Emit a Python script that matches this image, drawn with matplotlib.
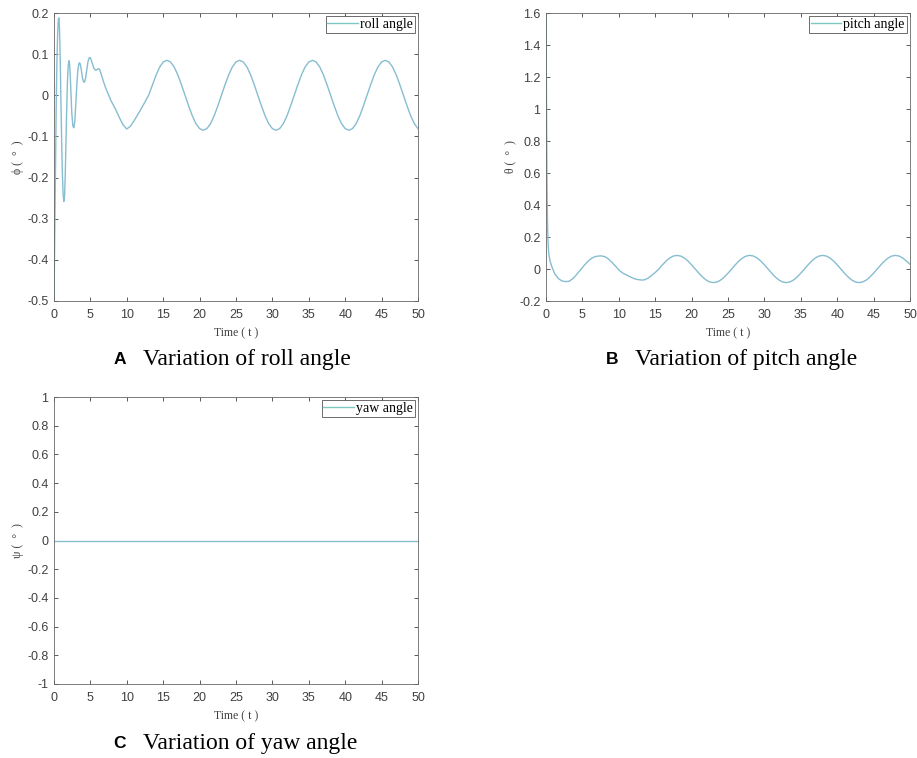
import numpy as np
import matplotlib.pyplot as plt

# Roll angle phi (deg) vs time
t_roll = [0, 0.05, 0.12, 0.2, 0.3, 0.4, 0.5, 0.6, 0.68, 0.76, 0.85, 0.95, 1.05, 1.15,
          1.25, 1.35, 1.45, 1.55, 1.65, 1.75, 1.85, 1.95, 2.05, 2.15, 2.25, 2.35,
          2.45, 2.6, 2.72, 2.85, 3.0, 3.15, 3.3, 3.45, 3.6, 3.75, 3.9, 4.05, 4.2,
          4.35, 4.5, 4.65, 4.8, 4.95, 5.1, 5.3, 5.5, 5.7, 5.9, 6.1, 6.3, 6.5, 6.8,
          7.1, 7.4, 7.8, 8.4, 9.0, 9.5, 10.0, 10.5, 11.0, 11.5, 12.0, 12.5,
          13.0, 13.5, 14.0, 14.5, 15.0, 15.5, 16.0, 16.5, 17.0, 17.5,
          18.0, 18.5, 19.0, 19.5, 20.0, 20.5, 21.0, 21.5, 22.0, 22.5,
          23.0, 23.5, 24.0, 24.5, 25.0, 25.5, 26.0, 26.5, 27.0, 27.5,
          28.0, 28.5, 29.0, 29.5, 30.0, 30.5, 31.0, 31.5, 32.0, 32.5,
          33.0, 33.5, 34.0, 34.5, 35.0, 35.5, 36.0, 36.5, 37.0, 37.5,
          38.0, 38.5, 39.0, 39.5, 40.0, 40.5, 41.0, 41.5, 42.0, 42.5,
          43.0, 43.5, 44.0, 44.5, 45.0, 45.5, 46.0, 46.5, 47.0, 47.5,
          48.0, 48.5, 49.0, 49.5, 50.0]
roll = [-0.5, -0.42, -0.3, -0.17, -0.03, 0.08, 0.15, 0.185, 0.188, 0.16, 0.09, -0.01, -0.11, -0.19,
        -0.24, -0.258, -0.245, -0.19, -0.11, -0.03, 0.035, 0.072, 0.084, 0.075, 0.04, -0.005,
        -0.045, -0.075, -0.079, -0.065, -0.02, 0.03, 0.065, 0.079, 0.077, 0.062, 0.043, 0.033, 0.032,
        0.043, 0.062, 0.08, 0.09, 0.092, 0.087, 0.075, 0.065, 0.061, 0.062, 0.065, 0.062, 0.05, 0.033,
        0.018, 0.005, -0.012, -0.032, -0.055, -0.072, -0.082, -0.075, -0.062, -0.047, -0.032, -0.016,
        0.0, 0.024, 0.048, 0.068, 0.081, 0.085, 0.081, 0.069, 0.050, 0.026,
        0.0, -0.026, -0.050, -0.069, -0.081, -0.085, -0.081, -0.069, -0.050, -0.026,
        0.0, 0.026, 0.050, 0.069, 0.081, 0.085, 0.081, 0.069, 0.050, 0.026,
        0.0, -0.026, -0.050, -0.069, -0.081, -0.085, -0.081, -0.069, -0.050, -0.026,
        0.0, 0.026, 0.050, 0.069, 0.081, 0.085, 0.081, 0.069, 0.050, 0.026,
        0.0, -0.026, -0.050, -0.069, -0.081, -0.085, -0.081, -0.069, -0.050, -0.026,
        0.0, 0.026, 0.050, 0.069, 0.081, 0.085, 0.081, 0.069, 0.050, 0.026,
        0.0, -0.026, -0.050, -0.069, -0.081]

# Pitch angle theta (deg) vs time
t_pitch = [0, 0.03, 0.06, 0.1, 0.14, 0.18, 0.23, 0.3, 0.4, 0.55, 0.8, 1.2, 1.7, 2.2,
           2.7, 3.2, 3.7, 4.2, 4.7, 5.2, 5.7, 6.2, 6.7, 7.2, 7.6, 8.1, 8.6, 9.1,
           9.6, 10.1, 10.6, 11.1, 11.6, 12.1, 12.6, 13.1, 13.5, 14.0, 14.5, 15.0,
           15.5, 16.0, 16.5, 17.0, 17.5, 18.0, 18.5, 19.0, 19.5, 20.0,
           20.5, 21.0, 21.5, 22.0, 22.5, 23.0, 23.5, 24.0, 24.5, 25.0,
           25.5, 26.0, 26.5, 27.0, 27.5, 28.0, 28.5, 29.0, 29.5, 30.0,
           30.5, 31.0, 31.5, 32.0, 32.5, 33.0, 33.5, 34.0, 34.5, 35.0,
           35.5, 36.0, 36.5, 37.0, 37.5, 38.0, 38.5, 39.0, 39.5, 40.0,
           40.5, 41.0, 41.5, 42.0, 42.5, 43.0, 43.5, 44.0, 44.5, 45.0,
           45.5, 46.0, 46.5, 47.0, 47.5, 48.0, 48.5, 49.0, 49.5, 50.0]
pitch = [1.6, 1.35, 1.1, 0.8, 0.55, 0.37, 0.24, 0.15, 0.09, 0.05, 0.015, -0.03, -0.06, -0.075,
         -0.079, -0.076, -0.06, -0.035, -0.008, 0.02, 0.045, 0.065, 0.077, 0.081, 0.082, 0.077, 0.062, 0.04,
         0.015, -0.01, -0.027, -0.038, -0.05, -0.06, -0.066, -0.069, -0.068, -0.058, -0.04, -0.022,
         0.0, 0.026, 0.050, 0.069, 0.081, 0.085, 0.081, 0.069, 0.050, 0.026,
         0.0, -0.026, -0.050, -0.069, -0.081, -0.085, -0.081, -0.069, -0.050, -0.026,
         0.0, 0.026, 0.050, 0.069, 0.081, 0.085, 0.081, 0.069, 0.050, 0.026,
         0.0, -0.026, -0.050, -0.069, -0.081, -0.085, -0.081, -0.069, -0.050, -0.026,
         0.0, 0.026, 0.050, 0.069, 0.081, 0.085, 0.081, 0.069, 0.050, 0.026,
         0.0, -0.026, -0.050, -0.069, -0.081, -0.085, -0.081, -0.069, -0.050, -0.026,
         0.0, 0.026, 0.050, 0.069, 0.081, 0.085, 0.081, 0.069, 0.050, 0.030]

# Yaw angle psi (deg) stays at zero
t_yaw = [0, 50]
yaw = [0, 0]

panels = [
    dict(t=t_roll, y=roll, label='roll angle', ylabel='ϕ (  °  )', ylim=(-0.5, 0.2),
         yticks=np.arange(-0.5, 0.21, 0.1), ytl=['-0.5', '-0.4', '-0.3', '-0.2', '-0.1', '0', '0.1', '0.2'],
         pos=[54, 13, 364, 288], cap='A', captext='Variation of roll angle', capy=360),
    dict(t=t_pitch, y=pitch, label='pitch angle', ylabel='θ (  °  )', ylim=(-0.2, 1.6),
         yticks=np.arange(-0.2, 1.61, 0.2), ytl=['-0.2', '0', '0.2', '0.4', '0.6', '0.8', '1', '1.2', '1.4', '1.6'],
         pos=[546, 13, 364, 288], cap='B', captext='Variation of pitch angle', capy=360),
    dict(t=t_yaw, y=yaw, label='yaw angle', ylabel='ψ (  °  )', ylim=(-1, 1),
         yticks=np.arange(-1, 1.01, 0.2), ytl=['-1', '-0.8', '-0.6', '-0.4', '-0.2', '0', '0.2', '0.4', '0.6', '0.8', '1'],
         pos=[54, 397, 364, 287], cap='C', captext='Variation of yaw angle', capy=743),
]

W, H = 917, 758
fig = plt.figure(figsize=(W / 100, H / 100), dpi=100)
line_color = '#86bdd0'
grey = '#404040'

for p in panels:
    x0, y0, w, h = p['pos']
    ax = fig.add_axes([x0 / W, 1 - (y0 + h) / H, w / W, h / H])
    ax.plot(p['t'], p['y'], color=line_color, lw=1.0, label=p['label'])
    ax.set_xlim(0, 50)
    ax.set_ylim(*p['ylim'])
    ax.set_xticks(np.arange(0, 51, 5))
    ax.set_yticks(p['yticks'])
    ax.set_yticklabels(p['ytl'])
    ax.tick_params(direction='in', top=True, right=True, length=3, width=0.6,
                   labelsize=9, colors=grey)
    ax.tick_params(axis='x', pad=6)
    ax.tick_params(axis='y', pad=4)
    for lab in ax.get_xticklabels() + ax.get_yticklabels():
        lab.set_fontfamily('Liberation Sans')
    for s in ax.spines.values():
        s.set_color('#666666')
        s.set_linewidth(0.6)
    ax.set_xlabel('Time ( t )', fontfamily='Liberation Serif', fontsize=8.5, color=grey, labelpad=4.5)
    ax.set_ylabel(p['ylabel'], fontfamily='Liberation Serif', fontsize=8.5, color=grey, labelpad=2)
    leg = ax.legend(loc='upper right', prop={'family': 'Liberation Serif', 'size': 10},
                    fancybox=False, edgecolor='#555555', framealpha=1, handlelength=2.2,
                    handletextpad=0.15, borderpad=0.12, borderaxespad=0.25)
    leg.get_frame().set_linewidth(0.6)
    leg.get_lines()[0].set_color('#7cc9c2')

    cx = (x0 + w / 2) / W
    cy = 1 - p['capy'] / H
    fig.text(cx - 0.1265, cy, p['cap'], fontfamily='Liberation Sans', fontweight='bold',
             fontsize=12.5, ha='center', va='center')
    fig.text(cx - 0.1014, cy, p['captext'], fontfamily='Liberation Serif', fontsize=17,
             ha='left', va='center')

fig.savefig('out.png', dpi=100)
